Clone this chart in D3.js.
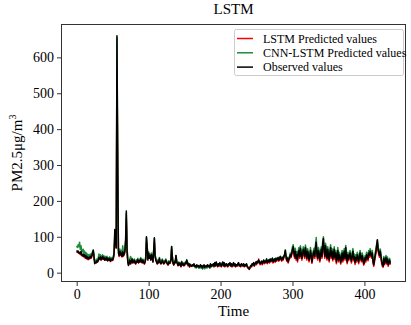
<!DOCTYPE html>
<html><head><meta charset="utf-8">
<script src="https://cdn.jsdelivr.net/npm/d3@7"></script>
<style>body{margin:0;background:#fff}svg{display:block}text{font-family:"Liberation Serif","Times New Roman",serif}</style>
</head><body>
<script>
const observed = [
62,58,60,55,57,52,60,50,48,52, 45,50,42,47,40,44,38,43,40,46,
42,48,55,62,45,25,30,28,33,30, 35,42,38,44,36,40,45,38,42,35,
40,36,42,33,38,35,40,32,36,38, 35,42,55,120,85,70,660,300,55,48,
60,50,55,45,58,48,52,60,90,172, 60,30,20,28,35,25,32,38,28,30,
35,28,25,32,30,36,28,34,30,38, 32,28,35,30,25,30,40,100,70,35,
55,40,48,35,50,42,30,60,97,45, 35,30,25,32,28,40,30,25,28,35,
30,25,28,32,35,28,25,22,30,26, 28,35,73,40,25,22,30,28,48,30,
25,20,28,22,25,18,30,22,25,20, 22,28,25,35,28,20,25,18,22,20,
18,22,20,25,18,20,15,22,18,20, 15,18,22,16,20,14,18,22,15,18,
20,16,22,18,20,15,25,18,22,20, 25,18,28,20,30,22,18,25,20,28,
22,18,25,30,20,28,18,22,25,20, 18,25,22,28,20,25,18,22,28,20,
25,18,22,20,25,28,20,22,18,25, 22,20,25,18,22,20,25,18,15,12,
10,15,20,18,25,22,28,20,25,30, 25,32,28,35,30,25,28,32,25,30,
35,28,32,30,38,28,32,35,30,38, 32,35,40,30,35,38,32,40,35,38,
42,35,38,45,40,35,42,38,45,50, 62,45,35,40,30,38,42,50,45,55,
65,72,55,45,60,40,50,35,55,62, 45,68,55,40,50,65,58,45,70,55,
40,60,52,35,45,62,48,30,42,55, 60,45,70,85,50,40,62,55,35,48,
65,45,80,95,60,45,75,55,40,65, 50,35,55,70,45,60,38,50,65,42,
55,30,45,62,35,50,45,28,40,55, 35,48,60,40,70,45,30,50,38,45,
55,40,32,48,60,38,45,28,42,35, 50,40,30,45,55,40,35,48,38,25,
30,42,35,50,45,38,55,48,60,52, 45,55,30,22,35,48,60,75,92,65,
55,48,60,45,30,22,18,40,25,35, 42,28,38,22,30,35,25];
const lstmPred = [
58,56,57,54,55,50,55,48,46,49, 44,46,40,44,38,41,36,40,38,42,
40,44,50,56,46,30,28,27,31,30, 33,38,37,40,35,38,42,37,40,35,
38,35,39,33,36,34,37,31,34,36, 34,39,50,95,80,68,560,320,70,45,
55,48,52,44,54,46,50,56,80,150, 70,35,22,25,32,24,30,35,27,28,
33,27,24,30,29,33,27,32,29,35, 31,27,32,29,24,28,36,85,75,40,
52,42,45,36,47,40,30,55,85,50, 36,30,24,30,27,37,29,24,26,32,
29,24,26,30,32,27,24,21,28,25, 27,32,65,45,27,21,28,27,42,32,
25,19,26,21,24,16,28,21,23,19, 20,26,24,32,27,19,23,15,20,19,
17,20,19,23,17,19,14,20,16,19, 14,16,20,15,18,13,16,20,14,16,
18,14,20,17,18,13,22,17,20,18, 23,16,25,18,27,20,16,22,18,25,
20,16,22,27,18,25,16,20,22,18, 16,22,20,25,18,22,16,20,25,18,
22,16,20,18,22,25,18,20,16,22, 20,18,22,16,20,18,22,16,13,11,
9,13,18,16,22,20,25,18,22,27, 22,30,27,38,28,22,26,30,22,27,
32,25,30,27,35,25,29,32,27,35, 30,32,37,27,32,35,29,37,32,35,
39,32,35,42,37,32,39,35,42,46, 55,42,32,37,27,35,39,46,42,50,
58,66,50,40,55,35,45,30,50,56, 40,62,50,35,45,58,52,40,63,50,
35,54,47,30,40,56,43,26,37,50, 54,40,63,77,45,35,56,50,30,43,
58,40,72,85,55,40,68,50,35,58, 45,30,50,63,40,54,33,45,58,37,
50,25,40,56,30,45,40,24,35,50, 30,43,54,35,63,40,25,45,33,40,
50,35,27,43,54,33,40,23,37,30, 45,35,25,40,50,35,30,43,33,21,
26,37,30,45,40,33,50,43,54,47, 40,50,26,18,30,43,54,68,82,60,
50,43,54,40,26,18,15,35,22,30, 37,24,33,18,26,30,22];
const cnnLstmPred = [
75,70,78,72,85,65,75,62,58,65, 55,60,50,56,48,52,45,50,46,52,
48,52,58,64,52,32,35,33,38,35, 42,52,44,50,42,46,50,44,47,40,
45,41,46,38,42,40,44,37,40,42, 40,45,58,110,88,75,655,330,65,55,
66,56,62,52,75,55,58,65,88,165, 70,38,26,32,40,45,36,40,32,34,
38,32,29,36,34,40,32,37,34,42, 36,32,38,34,29,34,44,98,72,42,
58,45,52,40,55,46,35,62,95,50, 40,34,28,36,32,42,34,28,32,38,
34,28,32,35,38,32,28,25,33,29, 31,38,72,45,30,25,33,31,48,35,
28,23,30,25,28,20,32,25,28,22, 24,30,27,36,30,22,26,20,24,21,
18,21,19,23,16,18,13,20,15,17, 12,15,19,12,16,10,14,18,11,14,
16,13,19,15,18,13,22,16,20,18, 24,17,27,20,29,22,18,25,20,27,
22,18,25,29,21,27,18,22,25,20, 18,24,22,27,20,24,18,22,27,20,
24,18,22,20,24,27,20,22,18,24, 22,20,24,18,22,20,24,18,15,12,
11,15,20,18,24,22,27,21,25,29, 26,31,28,33,30,26,29,32,27,31,
35,29,33,31,38,30,33,36,31,38, 33,36,41,32,36,39,34,41,36,39,
43,37,40,46,42,37,44,40,47,52, 64,48,38,43,34,42,46,55,50,60,
72,78,62,52,68,47,58,42,62,70, 52,75,62,47,57,72,65,52,77,62,
47,67,58,42,52,70,55,37,50,62, 68,52,78,98,58,47,70,62,42,55,
72,52,88,100,68,52,82,62,47,72, 57,42,62,78,52,67,45,57,72,50,
62,37,52,70,42,57,52,35,47,62, 42,55,67,47,76,52,37,57,45,52,
62,47,38,55,67,45,52,35,50,42, 57,47,37,52,62,47,42,55,45,32,
37,48,42,57,52,45,62,55,67,58, 52,62,37,28,42,55,67,80,90,70,
62,55,66,52,37,28,25,45,32,40, 48,34,44,28,36,40,30];
const xTicks = [0,100,200,300,400];
const yTicks = [0,100,200,300,400,500,600];
const seriesNames = ["LSTM Predicted values","CNN-LSTM Predicted values","Observed values"];
const seriesColors = ["#ff0000","#1e8c3c","#000000"];
const titleText = "LSTM";
const xLabel = "Time";

const W=411,H=325;
const m={l:61,r:5,t:24,b:43};
const svg=d3.select("body").append("svg").attr("width",W).attr("height",H);
const n=observed.length;
const x=d3.scaleLinear().domain([-21.8,(n-1)+21.8]).range([m.l,W-m.r]);
const y=d3.scaleLinear().domain([-26,693]).range([H-m.b,m.t]);

const g=svg.append("g");
const line=d3.line().x((d,i)=>x(i)).y(d=>y(d));
const clip=svg.append("clipPath").attr("id","c").append("rect")
 .attr("x",m.l).attr("y",m.t).attr("width",W-m.r-m.l).attr("height",H-m.b-m.t);
const series=[lstmPred,cnnLstmPred,observed];
series.forEach((s,k)=>{
  g.append("path").datum(s).attr("d",line).attr("fill","none")
   .attr("stroke",seriesColors[k]).attr("stroke-width",1.5)
   .attr("stroke-linejoin","round").attr("clip-path","url(#c)");
});

// frame
svg.append("rect").attr("x",m.l+0.5).attr("y",m.t+0.5)
 .attr("width",W-m.r-m.l-1).attr("height",H-m.b-m.t-1)
 .attr("fill","none").attr("stroke","#333").attr("stroke-width",1);

const xa=svg.append("g").attr("transform",`translate(0,${H-m.b})`)
 .call(d3.axisBottom(x).tickValues(xTicks).tickSize(4).tickPadding(3).tickFormat(d3.format("d")));
const ya=svg.append("g").attr("transform",`translate(${m.l},0)`)
 .call(d3.axisLeft(y).tickValues(yTicks).tickSize(4).tickPadding(3).tickFormat(d3.format("d")));
[xa,ya].forEach(a=>{a.select(".domain").remove();
 a.selectAll("line").attr("stroke","#333");
 a.selectAll("text").attr("font-size",14).attr("fill","#000")
  .style("font-family","'Liberation Serif',serif");});

svg.append("text").attr("x",(m.l+W-m.r)/2).attr("y",14).attr("text-anchor","middle")
 .attr("font-size",15).text(titleText);
svg.append("text").attr("x",(m.l+W-m.r)/2).attr("y",316).attr("text-anchor","middle")
 .attr("font-size",15).text(xLabel);
const yl=svg.append("text").attr("transform",`translate(22,${(m.t+H-m.b)/2}) rotate(-90)`)
 .attr("text-anchor","middle").attr("font-size",15);
yl.append("tspan").text("PM2.5μg/m");
yl.append("tspan").attr("font-size",10).attr("dy",-6).text("3");

// legend
const lg=svg.append("g").attr("transform","translate(234,29)");
lg.append("rect").attr("x",0.5).attr("y",0.5).attr("width",169).attr("height",46).attr("rx",2)
 .attr("fill","#fff").attr("fill-opacity",0.85).attr("stroke","#ccc");
seriesNames.forEach((nm,k)=>{
  const yy=9.5+k*14.3;
  lg.append("line").attr("x1",3).attr("x2",19).attr("y1",yy).attr("y2",yy)
   .attr("stroke",seriesColors[k]).attr("stroke-width",1.5);
  lg.append("text").attr("x",29).attr("y",yy+4).attr("font-size",12).text(nm);
});
</script>
</body></html>
